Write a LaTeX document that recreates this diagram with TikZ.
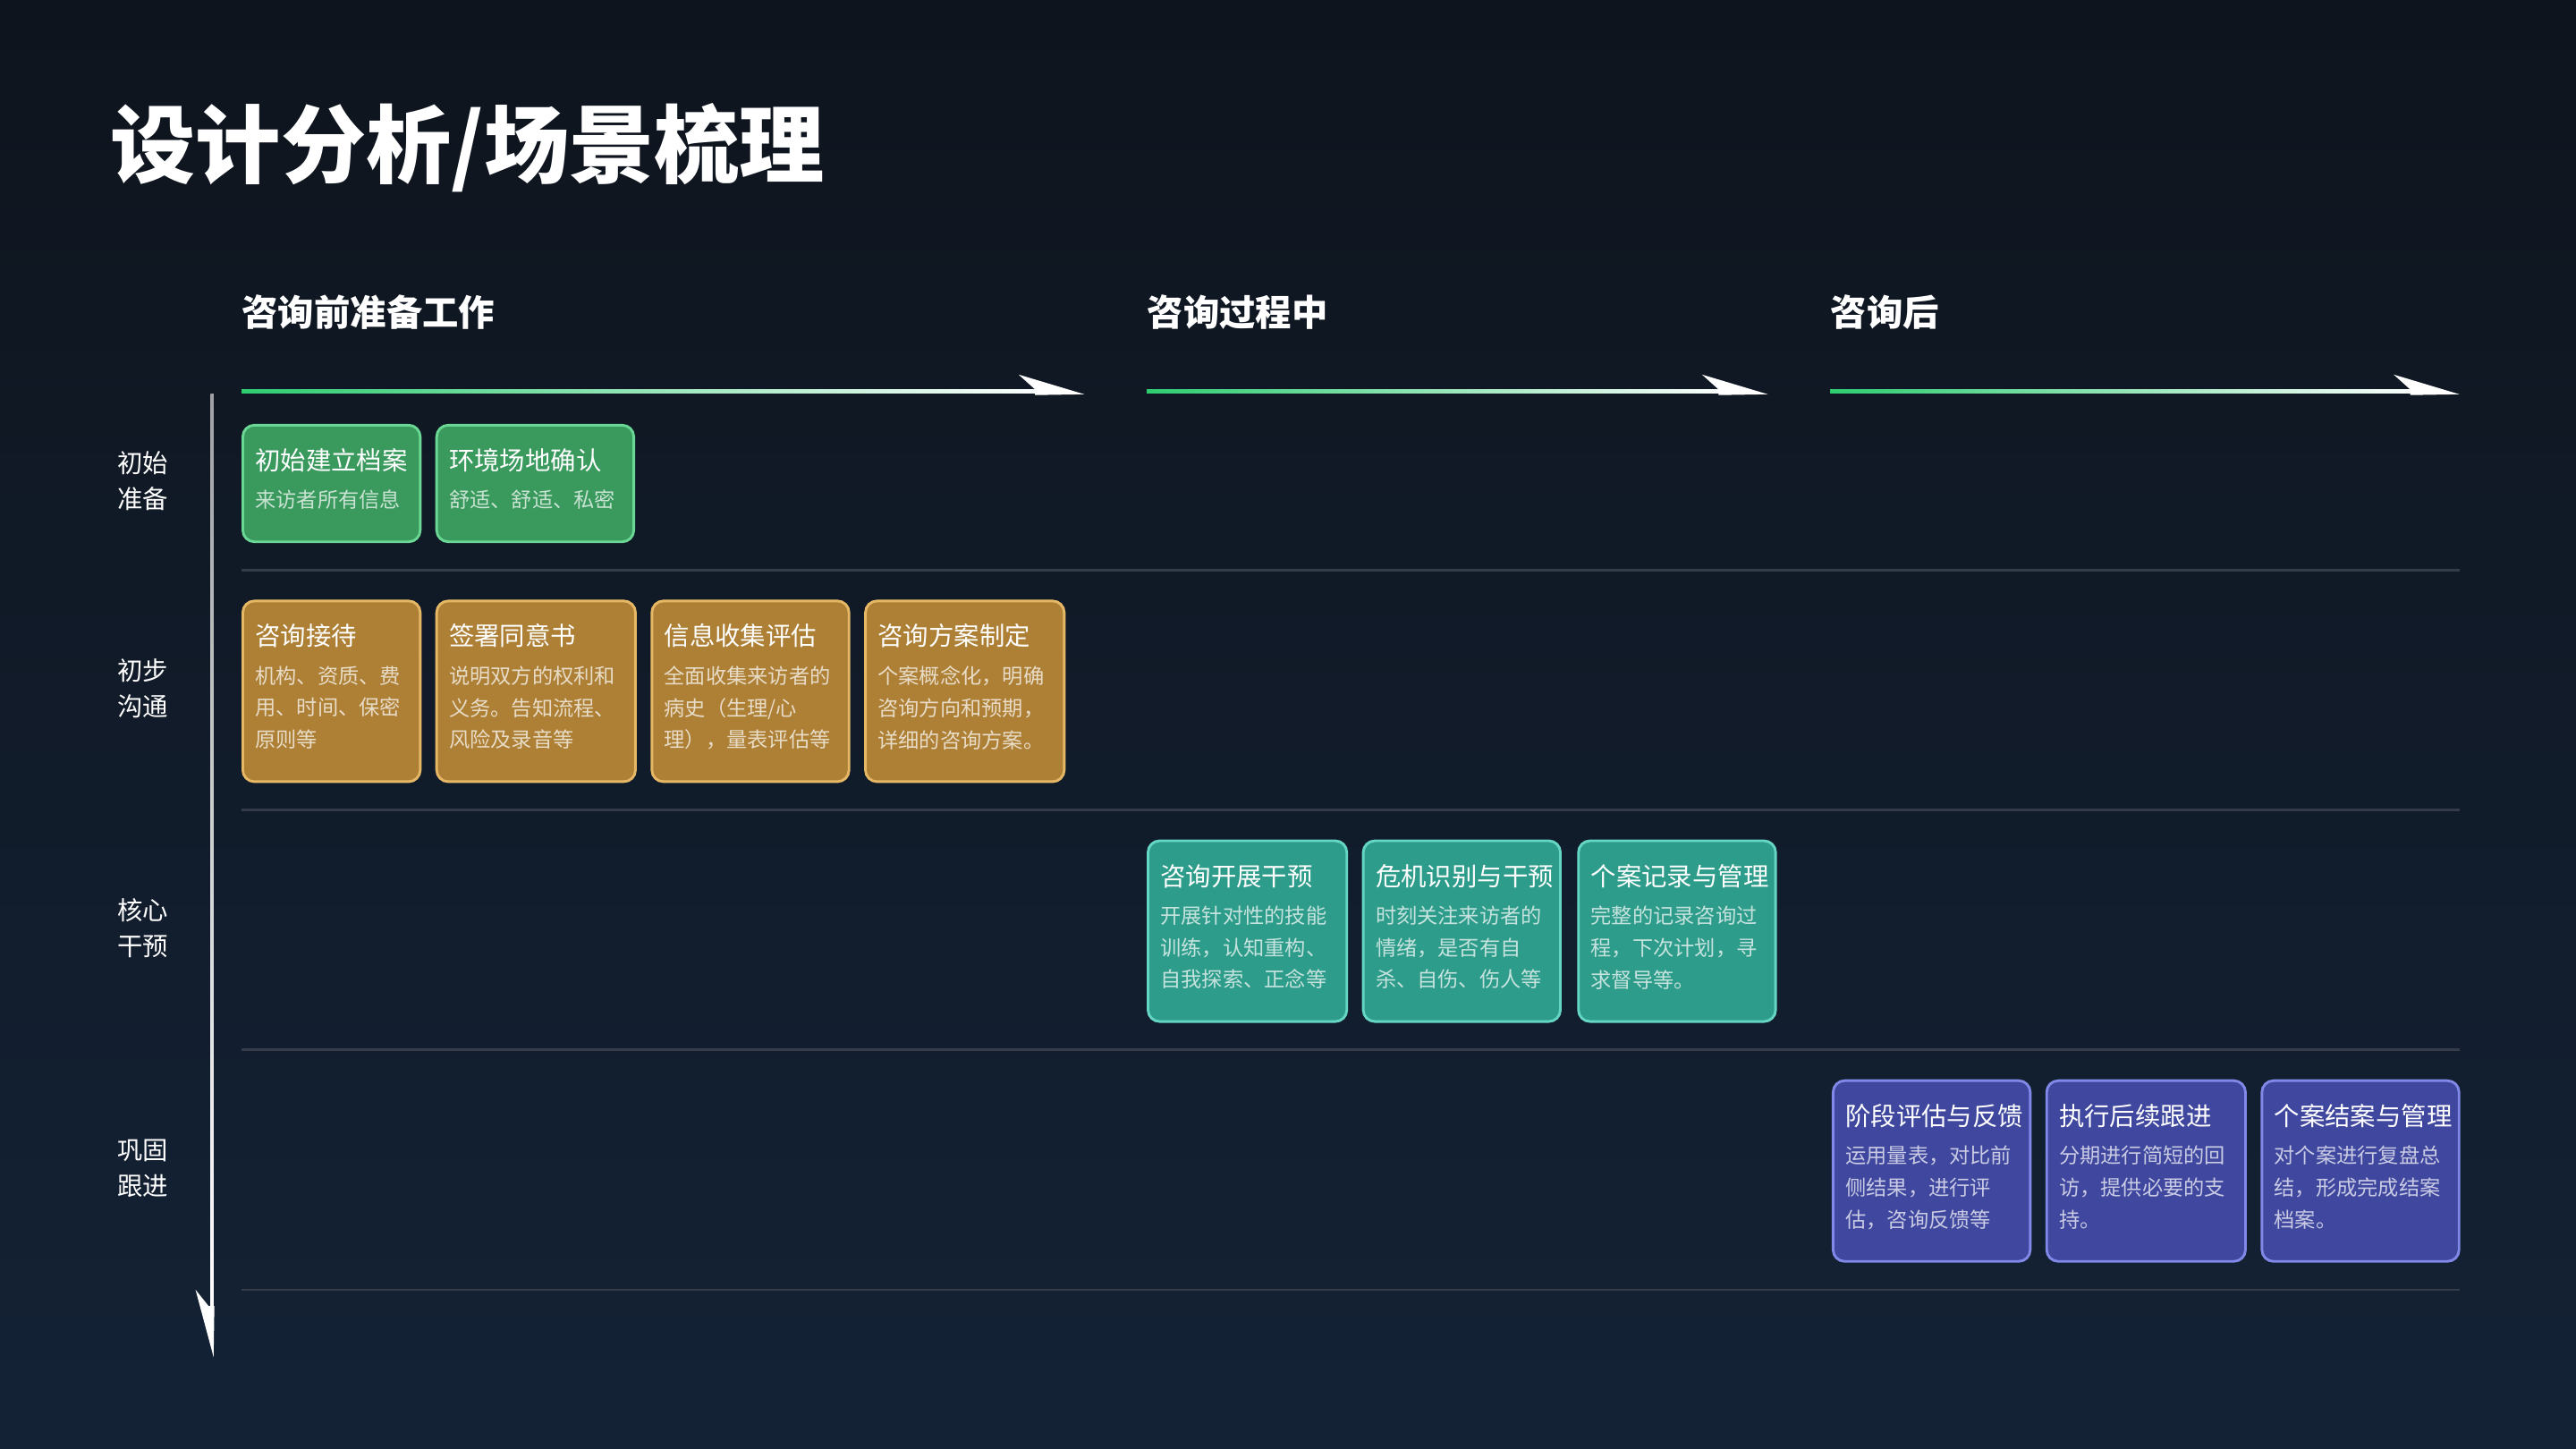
\documentclass[tikz,border=0pt]{standalone}
\usepackage{fontspec}
\setmainfont{Noto Sans CJK SC}
\usetikzlibrary{shadings}
\definecolor{bgA}{HTML}{0E141D}
\definecolor{bgB}{HTML}{15263C}
\definecolor{gF}{HTML}{3A9A5E}\definecolor{gB}{HTML}{6AD894}
\definecolor{oF}{HTML}{AE8036}\definecolor{oB}{HTML}{E6B866}
\definecolor{tF}{HTML}{2E9C8A}\definecolor{tB}{HTML}{66D6C4}
\definecolor{pF}{HTML}{3F479E}\definecolor{pB}{HTML}{8088E8}
\definecolor{sep}{HTML}{343C4A}
\definecolor{arrG}{HTML}{2ECC71}
\newcommand\mycard[8]{%
  \node[draw=#6B,fill=#6F,line width=0.9pt,rounded corners=4pt,minimum width=(#4-#2)*0.02cm,minimum height=(#5-#3)*0.02cm,anchor=north west,inner sep=0pt] (#1) at (#2,-#3) {};
  \node[anchor=base west,inner sep=0pt,font=\fontsize{8.8}{11}\selectfont,text=white] (#1t) at (#2+8,-#3-28) {#7};
  \node[anchor=north west,inner sep=0pt,align=left,font=\fontsize{7.2}{11.1}\selectfont,text=white!72!#6F] (#1b) at (#2+8,-#3-40) {#8};}
\newcommand\myhead[4]{%
  \node[anchor=west,inner sep=0pt,font=\fontsize{12.5}{14}\selectfont\bfseries,text=white] (#1) at (#2,-190) {#4};
  \shade[left color=arrG,right color=white] (#2,-237.2) rectangle (#3-20,-239.2);
  \fill[white] (#3-40,-228) -- (#3,-240) -- (#3-30,-240.5) -- (#3-30,-237) -- cycle;}
\begin{document}
\begin{tikzpicture}[x=0.02cm,y=0.02cm]
\useasboundingbox (0,0) rectangle (1568,-882);
\shade[top color=bgA,bottom color=bgB!80!bgA] (0,0) rectangle (1568,-882);
\node[anchor=west,inner sep=0pt,font=\fontsize{29.5}{32}\selectfont\bfseries,text=white] (title) at (67,-90) {设计分析/场景梳理};
\myhead{h1}{147}{660}{咨询前准备工作}
\myhead{h2}{698}{1076}{咨询过程中}
\myhead{h3}{1114}{1497}{咨询后}
% vertical axis
\shade[top color=white!60!bgA,bottom color=white] (128.2,-240) rectangle (130,-800);
\fill[white] (119,-785) -- (130,-826) -- (130.5,-795) -- (127,-795) -- cycle;
% separators
\foreach \y in {347,493,639,785}{\draw[sep,line width=0.8pt] (147,-\y) -- (1497,-\y);}
% side labels
\foreach \y/\t [count=\i] in {293/初始\\准备,419/初步\\沟通,565/核心\\干预,711/巩固\\跟进}
  {\node[align=center,text=white,font=\fontsize{8.8}{12.4}\selectfont] (s\i) at (87,-\y) {\t};}
\mycard{a1}{147}{258}{255}{329}{g}{初始建立档案}{来访者所有信息}
\mycard{a2}{265}{258}{385}{329}{g}{环境场地确认}{舒适、舒适、私密}
\mycard{b1}{147}{365}{255}{475}{o}{咨询接待}{机构、资质、费\\用、时间、保密\\原则等}
\mycard{b2}{265}{365}{386}{475}{o}{签署同意书}{说明双方的权利和\\义务。告知流程、\\风险及录音等}
\mycard{b3}{396}{365}{516}{475}{o}{信息收集评估}{全面收集来访者的\\病史（生理/心\\理），量表评估等}
\mycard{b4}{526}{365}{647}{475}{o}{咨询方案制定}{个案概念化，明确\\咨询方向和预期，\\详细的咨询方案。}
\mycard{c1}{698}{511}{819}{621}{t}{咨询开展干预}{开展针对性的技能\\训练，认知重构、\\自我探索、正念等}
\mycard{c2}{829}{511}{949}{621}{t}{危机识别与干预}{时刻关注来访者的\\情绪，是否有自\\杀、自伤、伤人等}
\mycard{c3}{960}{511}{1080}{621}{t}{个案记录与管理}{完整的记录咨询过\\程，下次计划，寻\\求督导等。}
\mycard{d1}{1115}{657}{1235}{767}{p}{阶段评估与反馈}{运用量表，对比前\\侧结果，进行评\\估，咨询反馈等}
\mycard{d2}{1245}{657}{1366}{767}{p}{执行后续跟进}{分期进行简短的回\\访，提供必要的支\\持。}
\mycard{d3}{1376}{657}{1496}{767}{p}{个案结案与管理}{对个案进行复盘总\\结，形成完成结案\\档案。}
\end{tikzpicture}
\end{document}
